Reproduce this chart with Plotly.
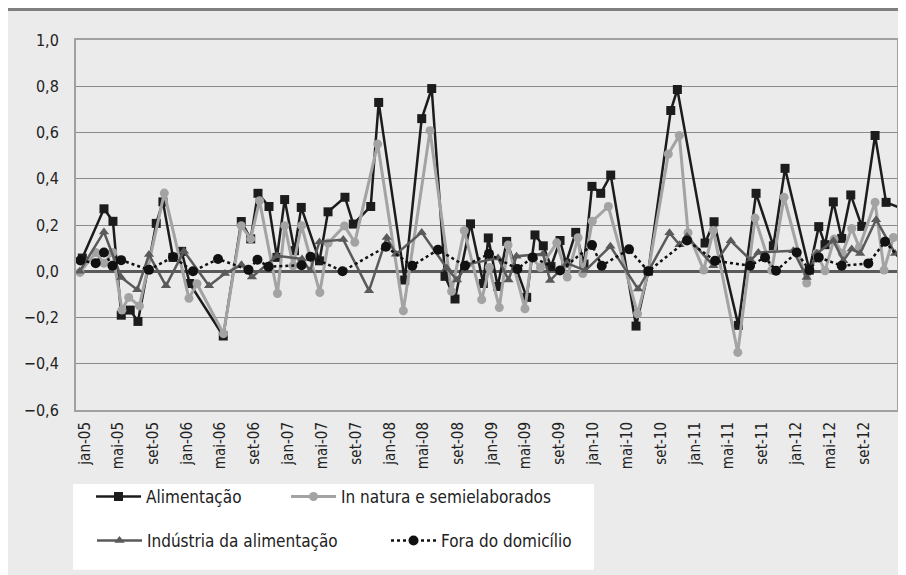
import numpy as np
import pandas as pd
import plotly.graph_objects as go

# Time is expressed in months elapsed since January 2005
BASE_DATE = "2005-01-01"

ali_t = [-0.67, 1.89, 2.95, 3.93, 4.99, 5.90, 8.06, 8.85, 10.04, 11.06, 12.01, 15.97,
         18.10, 19.21, 20.07, 21.37, 22.31, 23.22, 24.38, 25.18, 27.33, 28.34, 30.34,
         31.32, 33.38, 34.32, 37.39, 39.40, 40.58, 42.15, 43.33, 45.16, 46.67, 47.26,
         48.37, 49.43, 51.79, 52.77, 53.75, 54.66, 55.73, 56.43, 57.58, 58.56, 59.50,
         60.53, 61.71, 64.70, 66.15, 68.80, 69.58, 72.85, 73.91, 76.78, 78.87, 80.91,
         82.29, 85.16, 86.27, 87.01, 87.99, 88.98, 90.05, 91.35, 92.92, 94.22, 96.20]
ali_v = [0.057, 0.27, 0.216, -0.19, -0.168, -0.217, 0.207, 0.30, 0.06, 0.086, -0.053, -0.28,
         0.215, 0.14, 0.337, 0.28, 0.06, 0.31, 0.089, 0.276, 0.045, 0.257, 0.32,
         0.204, 0.28, 0.73, -0.038, 0.66, 0.79, -0.022, -0.12, 0.205, -0.053, 0.144,
         -0.066, 0.129, -0.113, 0.157, 0.11, 0.02, 0.133, 0.035, 0.168, 0.031, 0.367,
         0.337, 0.416, -0.237, 0.0, 0.695, 0.786, 0.122, 0.214, -0.234, 0.337, 0.11,
         0.445, 0.005, 0.193, 0.115, 0.30, 0.142, 0.33, 0.194, 0.587, 0.298, 0.27]

nat_t = [-0.94, 0.91, 1.89, 2.93, 4.01, 4.81, 6.08, 9.01, 11.92, 12.87, 16.00, 18.09,
         19.21, 20.25, 22.37, 23.23, 24.23, 25.21, 27.37, 28.36, 30.28, 31.50, 34.20,
         37.23, 40.38, 42.92, 44.42, 46.48, 47.38, 48.56, 49.59, 51.59, 52.38, 53.42,
         55.34, 56.58, 57.85, 58.41, 59.53, 61.43, 64.88, 66.15, 68.51, 69.81, 70.84,
         72.69, 73.83, 76.71, 78.75, 80.72, 82.17, 84.85, 86.03, 87.01, 88.08, 89.05,
         90.16, 91.06, 92.92, 93.98, 95.08]
nat_v = [-0.005, 0.081, 0.035, 0.081, -0.168, -0.113, -0.15, 0.338, -0.117, -0.054, -0.27, 0.197,
         0.14, 0.305, -0.096, 0.197, 0.024, 0.197, -0.092, 0.122, 0.196, 0.125, 0.55,
         -0.171, 0.608, -0.087, 0.175, -0.123, 0.016, -0.157, 0.113, -0.162, 0.06, 0.016,
         0.123, -0.025, 0.145, -0.01, 0.216, 0.28, -0.184, 0.0, 0.507, 0.587, 0.167,
         0.005, 0.176, -0.351, 0.23, 0.004, 0.32, -0.051, 0.077, 0.002, 0.139, 0.077,
         0.185, 0.103, 0.298, 0.005, 0.146]

ind_t = [-0.98, 1.89, 3.93, 5.82, 7.20, 9.21, 11.33, 14.29, 16.17, 18.12, 19.36, 22.31,
         25.27, 26.21, 27.33, 30.14, 33.18, 35.27, 36.36, 39.40, 42.35, 43.57, 44.75,
         48.41, 49.65, 50.59, 53.72, 54.55, 56.55, 58.71, 61.67, 64.94, 66.15, 68.65,
         69.83, 70.72, 73.83, 75.88, 78.24, 79.14, 83.27, 84.85, 86.03, 87.99, 89.17,
         90.16, 91.15, 93.04, 95.28]
ind_v = [0.0, 0.17, -0.027, -0.08, 0.072, -0.063, 0.087, -0.063, -0.01, 0.028, -0.025, 0.067,
         0.053, 0.002, 0.127, 0.137, -0.084, 0.146, 0.074, 0.168, 0.014, -0.038, 0.03,
         0.057, -0.038, 0.065, 0.075, -0.04, 0.035, 0.003, 0.108, -0.077, 0.0, 0.166,
         0.115, 0.15, 0.024, 0.132, 0.048, 0.081, 0.089, -0.027, 0.077, 0.132, 0.045,
         0.096, 0.077, 0.223, 0.077]

fora_t = [-0.89, 0.91, 1.89, 2.89, 3.92, 7.20, 10.04, 12.40, 15.35, 18.95, 20.01, 21.31,
          25.21, 26.27, 30.05, 35.18, 38.29, 41.32, 44.51, 47.34, 50.69, 52.50, 55.73,
          59.50, 60.65, 63.87, 66.15, 70.72, 74.03, 78.16, 79.93, 81.23, 83.67, 85.16,
          86.27, 88.98, 92.12, 94.10, 96.20]
fora_v = [0.047, 0.035, 0.081, 0.024, 0.048, 0.006, 0.062, 0.0, 0.053, 0.006, 0.05, 0.02,
          0.026, 0.063, 0.0, 0.106, 0.024, 0.093, 0.024, 0.075, 0.01, 0.06, 0.003,
          0.113, 0.024, 0.095, 0.0, 0.133, 0.045, 0.024, 0.06, 0.002, 0.081, 0.005,
          0.06, 0.024, 0.034, 0.128, 0.04]

tick_labels = ["jan-05", "mai-05", "set-05", "jan-06", "mai-06", "set-06",
               "jan-07", "mai-07", "set-07", "jan-08", "mai-08", "set-08",
               "jan-09", "mai-09", "set-09", "jan-10", "mai-10", "set-10",
               "jan-11", "mai-11", "set-11", "jan-12", "mai-12", "set-12"]

series_names = ["Alimentação", "In natura e semielaborados",
                "Indústria da alimentação", "Fora do domicílio"]


def to_dates(t):
    return pd.Timestamp(BASE_DATE) + pd.to_timedelta(np.array(t) * 30.4375, unit="D")


# label anchors nudged slightly so the rotated text is visually centred on its month
tick_dates = pd.date_range(BASE_DATE, periods=len(tick_labels), freq="4MS") - pd.Timedelta(days=10)

FONT = "DejaVu Sans Condensed, Liberation Sans Narrow, sans-serif"
TXT = "#222222"

fig = go.Figure()

fig.add_trace(go.Scatter(
    x=to_dates(ali_t), y=ali_v, name=series_names[0], mode="lines+markers",
    line=dict(color="#1c1c1c", width=2.5),
    marker=dict(symbol="square", size=9, color="#1c1c1c"),
    legend="legend"))
fig.add_trace(go.Scatter(
    x=to_dates(nat_t), y=nat_v, name=series_names[1], mode="lines+markers",
    line=dict(color="#a3a3a3", width=3),
    marker=dict(symbol="circle", size=9, color="#a3a3a3"),
    legend="legend2"))
fig.add_trace(go.Scatter(
    x=to_dates(ind_t), y=ind_v, name=series_names[2], mode="lines+markers",
    line=dict(color="#5a5a5a", width=2.5),
    marker=dict(symbol="triangle-up", size=9, color="#5a5a5a"),
    legend="legend3"))
fig.add_trace(go.Scatter(
    x=to_dates(fora_t), y=fora_v, name=series_names[3], mode="lines+markers",
    line=dict(color="#111111", width=2.5, dash="dot"),
    marker=dict(symbol="circle", size=10, color="#111111"),
    legend="legend4"))


def leg(x, y):
    return dict(orientation="h", x=x, y=y, xanchor="left", yanchor="middle",
                bgcolor="rgba(0,0,0,0)", itemwidth=45,
                font=dict(family=FONT, size=17, color=TXT))


fig.update_layout(
    width=898, height=567,
    margin=dict(l=68, r=9, t=32, b=165, autoexpand=False),
    paper_bgcolor="#ffffff",
    plot_bgcolor="#ffffff",
    separators=",.",
    font=dict(family=FONT, color=TXT, size=15),
    showlegend=True,
    legend=leg(0.0183, -0.235),
    legend2=leg(0.2558, -0.235),
    legend3=leg(0.0195, -0.354),
    legend4=leg(0.3776, -0.354),
    shapes=[
        dict(type="rect", xref="paper", yref="paper", x0=-0.0828, x1=1.02,
             y0=-0.5, y1=1.0784, fillcolor="#ebebeb", line=dict(width=0), layer="below"),
        dict(type="rect", xref="paper", yref="paper", x0=-0.0828, x1=1.02,
             y0=1.0784, y1=1.0865, fillcolor="#7f7f7f", line=dict(width=0), layer="below"),
        dict(type="rect", xref="paper", yref="paper", x0=-0.0037, x1=0.631,
             y0=-0.432, y1=-0.2, fillcolor="#ffffff", line=dict(width=0), layer="below"),
    ],
)

fig.update_xaxes(
    type="date", automargin=False,
    range=["2004-11-19", "2012-12-17"],
    tickvals=tick_dates, ticktext=tick_labels, tickangle=-90,
    tickfont=dict(family=FONT, size=15, color=TXT),
    showgrid=False, zeroline=False,
    showline=True, mirror=True, linecolor="#a0a0a0", linewidth=2,
    ticks="", ticklabelstandoff=4,
)
fig.update_yaxes(
    automargin=False,
    range=[-0.6, 1.0], dtick=0.2, tick0=0, tickformat=".1f",
    tickfont=dict(family=FONT, size=16, color=TXT),
    showgrid=True, gridcolor="#8a8a8a", gridwidth=1,
    zeroline=True, zerolinecolor="#5a5a5a", zerolinewidth=2.5,
    showline=True, mirror=True, linecolor="#a0a0a0", linewidth=2,
    ticks="", ticklabelstandoff=12,
)

fig.write_html("out.html")
